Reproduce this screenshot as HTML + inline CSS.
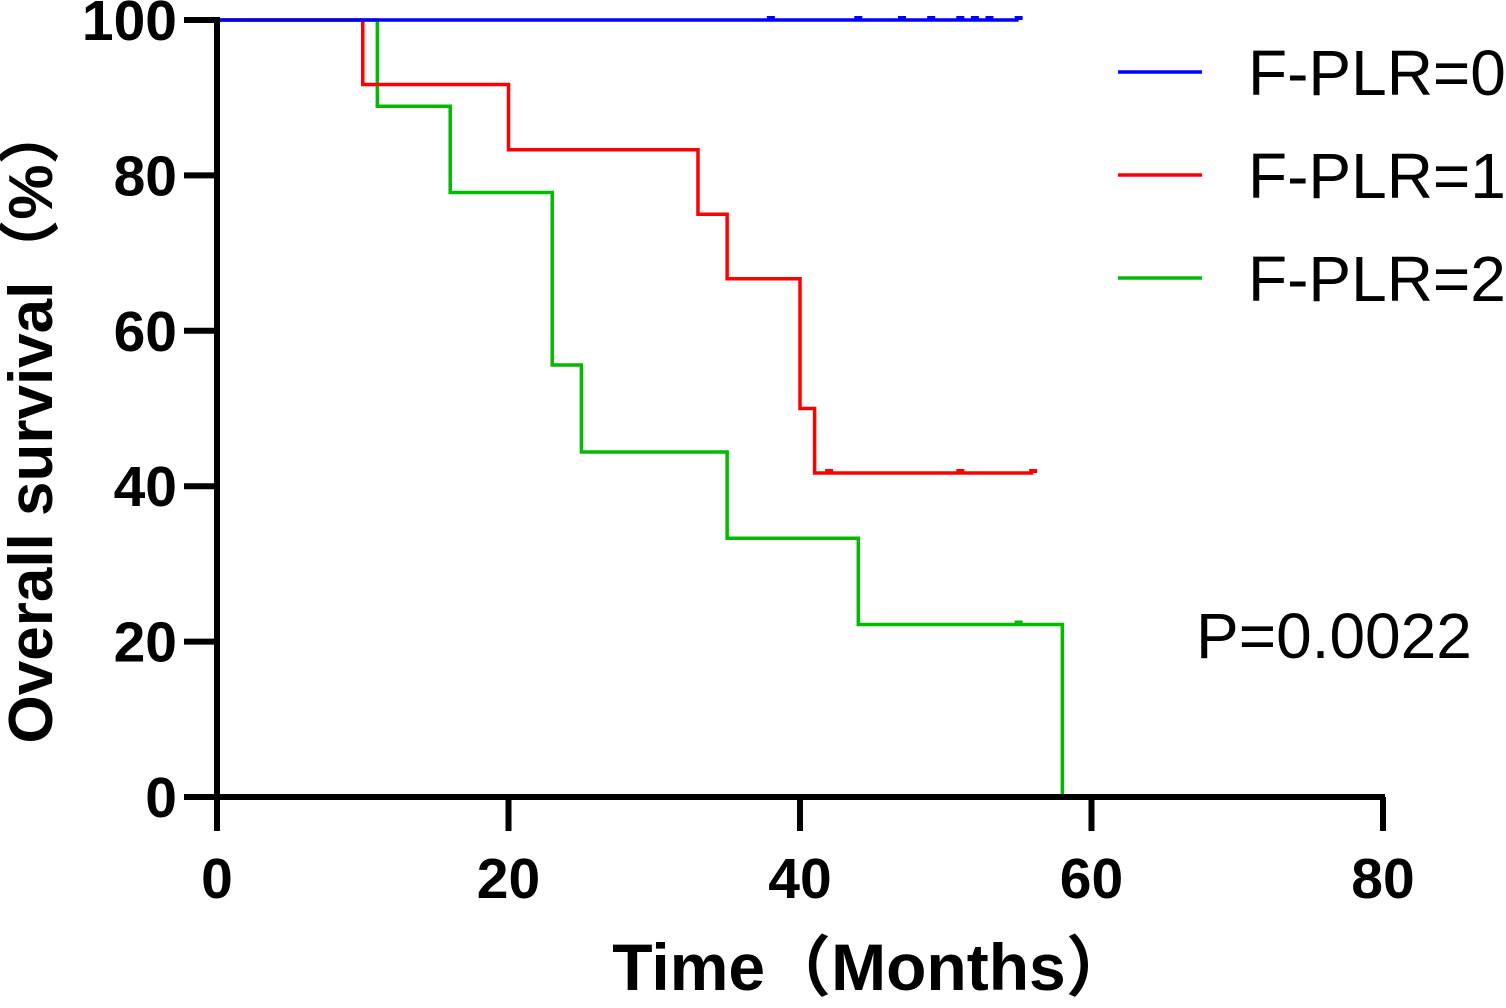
<!DOCTYPE html>
<html><head><meta charset="utf-8"><style>
body{margin:0;background:#fff}
svg text{font-family:"Liberation Sans","Noto Sans CJK SC",sans-serif}
</style></head><body>
<svg id="c" width="1506" height="1003"></svg>
<script>
const xTicks=[0,20,40,60,80];
const yTicks=[0,20,40,60,80,100];
const seriesNames=["F-PLR=0","F-PLR=1","F-PLR=2"];
const colors=["#0000ff","#ff0000","#00bb00"];
const blueSteps=[[0,100],[55,100]];
const blueCensor=[38,44,47,49,51,52,53,55];
const redSteps=[[0,100],[10,91.7],[20,83.3],[33,75],[35,66.7],[40,50],[41,41.7],[56,41.7]];
const redCensor=[42,51,56];
const greenSteps=[[0,100],[11,88.9],[16,77.8],[23,55.6],[25,44.4],[35,33.3],[44,22.2],[58,0]];
const greenCensor=[55];
const X=v=>217+v*(1383-217)/80;
const Y=v=>797-v*(797-20)/100;
const svg=document.getElementById('c');
const NS='http://www.w3.org/2000/svg';
function mk(t,a,p){const e=document.createElementNS(NS,t);for(const k in a)e.setAttribute(k,a[k]);(p||svg).appendChild(e);return e;}
function tx(x,y,s,size,w,anchor){const e=mk('text',{x:x,y:y,'font-size':size,'font-weight':w,'text-anchor':anchor});e.textContent=s;return e;}
const all=[[blueSteps,blueCensor],[redSteps,redCensor],[greenSteps,greenCensor]];
[2,1,0].forEach(i=>{const sd=all[i];
  const st=sd[0];let d='M'+X(st[0][0])+' '+Y(st[0][1]);
  for(let k=1;k<st.length;k++){d+=' H'+X(st[k][0])+' V'+Y(st[k][1]);}
  const p=mk('path',{d:d,fill:'none',stroke:colors[i],'stroke-width':3.5});
  
  
  sd[1].forEach(c=>{let v=st[0][1];for(const s of st){if(s[0]<=c)v=s[1];}
    const m=mk('rect',{x:X(c)-4,y:Y(v)-4,width:8,height:4,fill:colors[i]});
    
    
  });
});
const ax=mk('path',{d:'M217 17 V797 H1385',fill:'none',stroke:'#000','stroke-width':6});


xTicks.forEach(v=>{mk('line',{x1:X(v),x2:X(v),y1:797,y2:831,stroke:'#000','stroke-width':6});
  const t=tx(X(v),898,String(v),57,'bold','middle');
  
  });
yTicks.forEach(v=>{mk('line',{x1:184,x2:217,y1:Y(v),y2:Y(v),stroke:'#000','stroke-width':6});
  const t=tx(177,Y(v)+20,String(v),57,'bold','end');
  
  });
const xt=tx(872,990,'Time（Months）',66,'bold','middle');


const yt=tx(0,0,'Overall survival（%）',62,'bold','middle');
yt.setAttribute('transform','translate(52,423) rotate(-90)');


seriesNames.forEach((n,i)=>{const y=72+i*103;
  const l=mk('line',{x1:1118,x2:1202,y1:y,y2:y,stroke:colors[i],'stroke-width':3.5});
  
  
  const t=tx(1248,y+23,n,64,'normal','start');
  
  });
const pv=tx(1196,658,'P=0.0022',64,'normal','start');


</script>
</body></html>
